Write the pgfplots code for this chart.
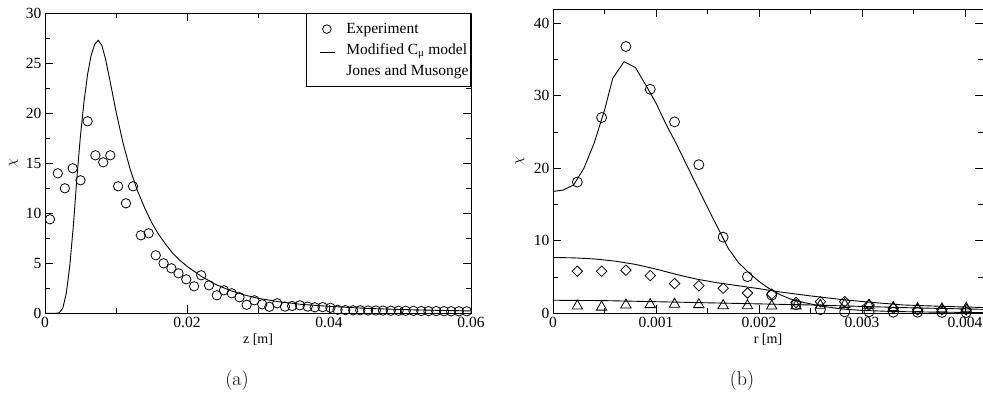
\documentclass[border=0pt]{standalone}
\usepackage{pgfplots}
\pgfplotsset{compat=1.18}
\usepackage{fontspec}
\newfontfamily\tnr{Liberation Serif}
\usetikzlibrary{plotmarks}

\pgfplotsset{
  chiaxis/.style={
    scale only axis,
    anchor=south west,
    axis line style={line width=0.9pt},
    tick align=inside,
    major tick length=8pt,
    minor tick length=5pt,
    every tick/.style={line width=0.9pt,black},
    minor x tick num=1,
    minor y tick num=1,
    scaled x ticks=false,
    /pgf/number format/assume math mode=true,
    tick label style={font=\tnr\fontsize{15.5}{17}\selectfont},
    xlabel style={font=\tnr\fontsize{14}{16}\selectfont,at={(axis description cs:0.5,0)},anchor=center},
    ylabel style={at={(axis description cs:0,0.5)},anchor=center,font=\fontsize{14}{16}\selectfont},
    clip=false,
  },
}

\begin{document}
\begin{tikzpicture}
\useasboundingbox (0,0) rectangle (983pt,-402pt);

% (a) axial profile
\begin{axis}[chiaxis,
  at={(45pt,-313.3pt)}, width=426pt, height=300pt,
  xmin=0, xmax=0.06, ymin=0, ymax=30,
  xtick={0,0.02,0.04,0.06}, xticklabels={0,0.02,0.04,0.06},
  ytick={0,5,10,15,20,25,30},
  xlabel={z [m]}, xlabel style={yshift=-26.7pt},
  ylabel={$\chi$}, ylabel style={yshift=31.7pt},
  legend style={at={(1,1)}, anchor=north east, draw=black, line width=0.8pt,
    font=\tnr\fontsize{15.5}{17}\selectfont, inner xsep=0pt, inner ysep=7.5pt,
    nodes={inner xsep=2pt}, row sep=4.5pt, column sep=9pt},
  legend cell align=left,
]
\addplot[only marks, mark=o, mark size=4.7pt, mark options={line width=0.8pt},
  legend image code/.code={\path[draw=none] (0pt,0pt) -- (28pt,0pt);
    \draw[line width=0.8pt] (20pt,0pt) circle (4.3pt);}]
table {
0.0007 9.4
0.0018 14.0
0.0028 12.5
0.0039 14.5
0.0050 13.3
0.0060 19.2
0.0071 15.8
0.0082 15.1
0.0092 15.8
0.0103 12.7
0.0114 11.0
0.0124 12.7
0.0135 7.8
0.0146 8.0
0.0156 5.8
0.0167 5.0
0.0178 4.5
0.0188 4.0
0.0199 3.4
0.0210 2.7
0.0220 3.8
0.0231 2.8
0.0242 1.8
0.0252 2.3
0.0263 2.0
0.0274 1.6
0.0284 0.85
0.0295 1.3
0.0306 0.9
0.0316 0.65
0.0327 1.0
0.0338 0.67
0.0348 0.73
0.0359 0.8
0.0370 0.67
0.0380 0.6
0.0391 0.62
0.0402 0.55
0.0412 0.35
0.0423 0.32
0.0434 0.3
0.0444 0.3
0.0455 0.28
0.0466 0.28
0.0476 0.27
0.0487 0.26
0.0498 0.25
0.0508 0.25
0.0519 0.24
0.0530 0.23
0.0540 0.22
0.0551 0.22
0.0562 0.21
0.0572 0.2
0.0583 0.2
0.0594 0.2
};
\addlegendentry{Experiment}
\addplot[line width=0.9pt, no marks,
  legend image code/.code={\path[draw=none] (0pt,0pt) -- (28pt,0pt);
    \draw[line width=0.9pt] (13pt,-3pt) -- (28pt,-3pt);}]
table {
0 0
0.0015 0
0.002 0.05
0.0025 0.5
0.003 2.0
0.0035 4.8
0.004 8.8
0.0045 13.6
0.005 17.8
0.0055 21.2
0.006 23.9
0.0065 25.8
0.007 26.9
0.0075 27.3
0.008 26.8
0.0085 25.5
0.009 23.8
0.0095 22.0
0.010 20.2
0.011 17.0
0.012 14.4
0.013 12.3
0.014 10.6
0.015 9.1
0.016 7.9
0.017 6.9
0.018 6.0
0.019 5.3
0.020 4.7
0.022 3.7
0.024 2.9
0.026 2.3
0.028 1.85
0.030 1.5
0.033 1.15
0.036 0.9
0.040 0.7
0.045 0.5
0.050 0.38
0.055 0.3
0.060 0.24
};
\addlegendentry{Modified C\textsubscript{μ} model}
\addlegendimage{legend image code/.code={\path[draw=none] (0pt,0pt) -- (28pt,0pt);}}
\addlegendentry{Jones and Musonge}
\end{axis}

% (b) radial profiles
\begin{axis}[chiaxis,
  at={(553pt,-313.3pt)}, width=430pt, height=304pt,
  xmin=0, xmax=0.004175, ymin=0, ymax=41.93,
  xtick={0,0.001,0.002,0.003,0.004}, xticklabels={0,0.001,0.002,0.003,0.004},
  ytick={0,10,20,30,40},
  xlabel={r [m]}, xlabel style={yshift=-26.7pt},
  ylabel={$\chi$}, ylabel style={yshift=33pt},
]
\addplot[line width=0.9pt, no marks] table {
0 16.8
0.0001 17.0
0.0002 17.7
0.0003 20.0
0.0004 23.5
0.0005 28.0
0.00058 32.4
0.00069 34.7
0.0008 33.9
0.0009 31.5
0.001 29.0
0.0011 26.0
0.0012 23.3
0.0013 20.4
0.0014 17.5
0.0015 14.6
0.0016 11.8
0.0017 9.0
0.0018 7.0
0.0019 5.6
0.0020 4.4
0.0021 3.4
0.0022 2.6
0.0023 2.0
0.0024 1.6
0.0026 1.0
0.0028 0.6
0.0030 0.4
0.0033 0.25
0.0036 0.18
0.004175 0.1
};
\addplot[line width=0.9pt, no marks] table {
0 7.7
0.0002 7.65
0.0004 7.5
0.0006 7.2
0.0008 6.75
0.001 6.1
0.0012 5.35
0.0014 4.7
0.0016 4.2
0.0018 3.8
0.002 3.4
0.0022 2.95
0.0025 2.4
0.0028 1.9
0.0031 1.5
0.0034 1.15
0.0038 0.95
0.004175 0.8
};
\addplot[line width=0.9pt, no marks] table {
0 1.8
0.0005 1.75
0.001 1.6
0.0015 1.45
0.002 1.3
0.0025 1.15
0.003 0.95
0.0035 0.75
0.004175 0.55
};
\addplot[only marks, mark=o, mark size=5pt, mark options={line width=0.8pt}] table {
0.000236 18.1
0.000472 27.0
0.000708 36.8
0.000944 30.9
0.00118 26.4
0.001416 20.5
0.001652 10.5
0.001888 5.05
0.002124 2.5
0.00236 1.2
0.002596 0.5
0.002832 0.2
0.003068 0.2
0.003304 0.15
0.00354 0.15
0.003776 0.12
0.004012 0.1
};
\addplot[only marks, mark=square, mark size=3.7pt, mark options={rotate=45, line width=0.8pt}] table {
0.000236 5.8
0.000472 5.8
0.000708 5.95
0.000944 5.2
0.00118 4.1
0.001416 3.8
0.001652 3.45
0.001888 2.8
0.002124 2.65
0.00236 1.5
0.002596 1.6
0.002832 1.6
0.003068 1.15
0.003304 0.7
0.00354 0.5
0.003776 0.5
0.004012 0.5
};
\addplot[only marks, mark=triangle, mark size=6pt, mark options={line width=0.8pt}] table {
0.000236 1.0
0.000472 0.85
0.000708 1.15
0.000944 1.2
0.00118 1.25
0.001416 1.2
0.001652 1.05
0.001888 1.05
0.002124 1.0
0.00236 1.0
0.002596 1.1
0.002832 1.2
0.003068 1.1
0.003304 0.8
0.00354 0.65
0.003776 0.6
0.004012 0.7
};
\end{axis}

\node[font=\fontsize{20}{22}\selectfont] at (237pt,-381pt) {(a)};
\node[font=\fontsize{20}{22}\selectfont] at (742pt,-381pt) {(b)};
\end{tikzpicture}
\end{document}
